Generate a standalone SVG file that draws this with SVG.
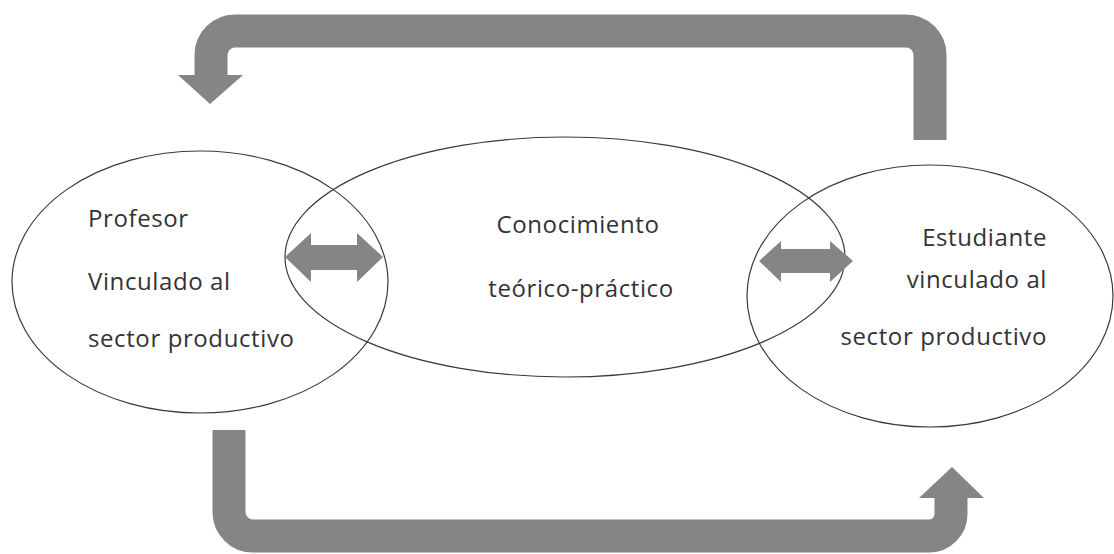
<svg xmlns="http://www.w3.org/2000/svg" width="1114" height="554" viewBox="0 0 1114 554">
<style>
.ell{fill:none;stroke:#3a3a3a;stroke-width:1.2}
.lbl{font-family:"Open Sans","Liberation Sans",sans-serif;font-size:24px;letter-spacing:0.6px;fill:#333}
.band{fill:none;stroke:#858585;stroke-width:33}
.head{fill:#858585}
</style>
<rect width="1114" height="554" fill="#fff"/>
<g id="conocimiento">
<ellipse class="ell" cx="565" cy="257" rx="280" ry="120"/>
<text class="lbl" x="578" y="233" text-anchor="middle">Conocimiento</text>
<text class="lbl" x="581" y="297" text-anchor="middle">teórico-práctico</text>
</g>
<g id="profesor">
<ellipse class="ell" cx="200" cy="282" rx="188" ry="131"/>
<text class="lbl" x="88" y="227">Profesor</text>
<text class="lbl" x="88" y="290">Vinculado al</text>
<text class="lbl" x="88" y="347">sector productivo</text>
</g>
<g id="estudiante">
<ellipse class="ell" cx="930" cy="296" rx="183" ry="131"/>
<text class="lbl" x="1047" y="246" text-anchor="end">Estudiante</text>
<text class="lbl" x="1047" y="288" text-anchor="end">vinculado al</text>
<text class="lbl" x="1047" y="345" text-anchor="end">sector productivo</text>
</g>
<g id="connectors">
<path class="band" d="M930 140 V55 A24 24 0 0 0 906 31 H235 A24 24 0 0 0 211 55 V76"/>
<polygon class="head" points="178,75 243,75 210,104"/>
<path class="band" d="M229 430 V512 A24 24 0 0 0 253 536 H929 A22 22 0 0 0 951 514 V497"/>
<polygon class="head" points="919,498 984,498 952,467"/>
<path class="head" d="M285 257 L311 233 V245 H357 V233 L383 257 L357 282 V270 H311 V282 Z"/>
<path class="head" d="M759 261 L781 241 V249 H830 V241 L853 261 L830 282 V273 H781 V282 Z"/>
</g>
</svg>
